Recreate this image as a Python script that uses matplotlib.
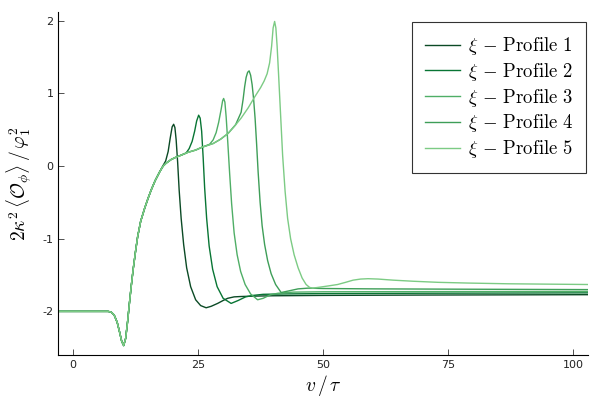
import matplotlib
matplotlib.use("Agg")
import matplotlib.pyplot as plt

plt.rcParams['mathtext.fontset'] = 'cm'
plt.rcParams['axes.unicode_minus'] = False

# shared early part (all profiles identical here)
v_base = [-3, 0, 4, 7, 7.6, 8.2, 8.8, 9.3, 9.7, 10.1, 10.5, 10.9, 11.2, 11.6, 12.0,
          12.5, 12.9, 13.5, 14.3, 15.0, 15.6, 16.4, 17.3]
y_base = [-2.0, -2.0, -2.0, -2.0, -2.01, -2.05, -2.15, -2.29, -2.41, -2.47, -2.37, -2.13,
          -1.92, -1.66, -1.42, -1.16, -0.97, -0.76, -0.58, -0.44, -0.33, -0.20, -0.08]

# profile 1
v1 = [18.0, 18.5, 19.0, 19.4, 19.8, 20.1, 20.35, 20.6, 20.9, 21.2, 21.6, 22.1, 22.7,
      23.5, 24.5, 25.5, 26.6, 27.6, 28.9, 30.0, 30.9, 32.2, 33.6, 36, 40, 50, 70, 103]
y1 = [0.01, 0.07, 0.20, 0.38, 0.54, 0.575, 0.53, 0.36, 0.05, -0.33, -0.72, -1.08, -1.40,
      -1.66, -1.84, -1.92, -1.95, -1.93, -1.89, -1.85, -1.82, -1.80, -1.795, -1.79, -1.785,
      -1.78, -1.775, -1.77]

# profile 2
v2 = [18.0, 18.6, 19.6, 20.5, 21.6, 22.6, 23.2, 23.8, 24.3, 24.7, 25.1, 25.4, 25.7,
      26.0, 26.3, 26.7, 27.2, 27.9, 28.8, 30.0, 31.6, 33.0, 34.5, 36, 38, 42, 50, 70, 103]
y2 = [0.0, 0.04, 0.09, 0.12, 0.15, 0.18, 0.24, 0.34, 0.48, 0.62, 0.70, 0.66, 0.48,
      0.12, -0.30, -0.72, -1.10, -1.42, -1.66, -1.82, -1.89, -1.85, -1.80, -1.78, -1.765,
      -1.76, -1.755, -1.75, -1.745]

# profile 3
v3 = [18.0, 18.6, 19.6, 20.5, 21.6, 23.0, 24.5, 25.8, 27.3, 28.0, 28.6, 29.1, 29.6,
      29.9, 30.1, 30.35, 30.6, 30.9, 31.3, 31.7, 32.2, 32.8, 33.5, 34.4, 35.5, 36.9, 38.0,
      39.5, 41, 44, 50, 103]
y3 = [0.0, 0.04, 0.09, 0.12, 0.15, 0.19, 0.22, 0.26, 0.30, 0.36, 0.46, 0.60, 0.78,
      0.90, 0.93, 0.88, 0.68, 0.36, -0.10, -0.52, -0.92, -1.22, -1.45, -1.63, -1.76, -1.84,
      -1.82, -1.77, -1.75, -1.735, -1.73, -1.725]

# profile 4
v4 = [18.0, 18.6, 19.6, 20.5, 21.6, 23.0, 24.5, 25.8, 28.0, 29.5, 31.0, 32.5, 33.6,
      34.0, 34.3, 34.6, 34.9, 35.2, 35.5, 35.8, 36.1, 36.4, 36.7, 37.0, 37.4, 37.8, 38.3,
      38.9, 39.6, 40.5, 41.6, 43, 45, 47, 50, 60, 80, 103]
y4 = [0.0, 0.04, 0.09, 0.12, 0.15, 0.19, 0.22, 0.26, 0.31, 0.37, 0.45, 0.57, 0.74,
      0.92, 1.09, 1.22, 1.29, 1.31, 1.25, 1.12, 0.92, 0.65, 0.30, -0.08, -0.50, -0.82,
      -1.08, -1.30, -1.48, -1.63, -1.74, -1.72, -1.69, -1.68, -1.685, -1.69, -1.695, -1.70]

# profile 5
v5 = [18.0, 18.6, 19.6, 20.5, 21.6, 23.0, 24.5, 25.8, 28.0, 29.5, 31.0, 32.3, 33.6,
      35.0, 36.3, 37.5, 38.2, 38.8, 39.3, 39.7, 40.0, 40.3, 40.55, 40.8, 41.1, 41.5, 41.9,
      42.4, 42.9, 43.5, 44.2, 45.0, 45.8, 46.6, 47.3, 47.9, 49.5, 51, 52.9, 54.5, 56,
      57.5, 59, 61, 64, 68, 73, 79, 87, 95, 103]
y5 = [0.0, 0.04, 0.09, 0.12, 0.15, 0.19, 0.22, 0.26, 0.31, 0.37, 0.45, 0.55, 0.66,
      0.80, 0.95, 1.08, 1.17, 1.27, 1.42, 1.65, 1.90, 1.99, 1.90, 1.65, 1.25, 0.70, 0.15,
      -0.35, -0.72, -1.00, -1.22, -1.40, -1.54, -1.63, -1.67, -1.68, -1.665, -1.65, -1.63,
      -1.60, -1.57, -1.555, -1.55, -1.555, -1.57, -1.585, -1.60, -1.61, -1.62, -1.625,
      -1.63]

labels = [r"$\xi\, -\, \mathrm{Profile\ %d}$" % i for i in range(1, 6)]
colors = ['#0b4a25', '#087534', '#4fae66', '#3e9e58', '#7ccb84']

fig = plt.figure(figsize=(6, 4), dpi=100)
ax = fig.add_axes([0.097, 0.1125, 0.883, 0.8575])

series = [(v1, y1), (v2, y2), (v3, y3), (v4, y4), (v5, y5)]
for (vs, ys), c, lab in zip(series, colors, labels):
    ax.plot(v_base + vs, y_base + ys, color=c, lw=1.0, label=lab)

ax.set_xlim(-3, 103)
ax.set_ylim(-2.6, 2.12)
ax.set_xticks([0, 25, 50, 75, 100])
ax.set_yticks([-2, -1, 0, 1, 2])
ax.tick_params(direction='in', length=4, width=0.6, labelsize=8, colors='#333333',
               labelcolor='#222222')
for s in ['top', 'right']:
    ax.spines[s].set_visible(False)
for s in ['left', 'bottom']:
    ax.spines[s].set_linewidth(0.8)

ax.set_xlabel(r"$v\,/\,\tau$", fontsize=14, labelpad=2)
ax.set_ylabel(r"$2\kappa^2\,\langle\mathcal{O}_\phi\rangle\,/\,\varphi_1^2$", fontsize=14,
              labelpad=6)

leg = ax.legend(loc='upper right', bbox_to_anchor=(586 / 600, 1 - 22 / 400),
                bbox_transform=fig.transFigure, fontsize=13.5, frameon=True,
                fancybox=False, edgecolor='black', handlelength=1.9, handletextpad=0.4,
                borderpad=0.7, labelspacing=0.2, borderaxespad=0.0)
leg.get_frame().set_linewidth(0.8)

fig.savefig("out.png", dpi=100)
